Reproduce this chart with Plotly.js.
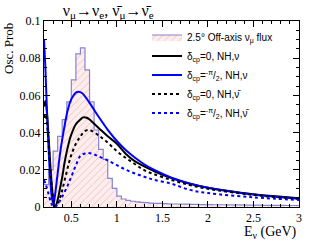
<!DOCTYPE html>
<html>
<head>
<meta charset="utf-8">
<script src="https://cdn.plot.ly/plotly-3.0.1.min.js"></script>
<style>html,body{margin:0;padding:0;background:#fff}#chart{width:314px;height:243px}</style>
</head>
<body>
<div id="chart"></div>
<script>
// Flux histogram (bin edges, 0.05 GeV wide) and values
var binEdges = [0.20,0.25,0.30,0.35,0.40,0.45,0.50,0.55,0.60,0.65,0.70,0.75,0.80,0.85,0.90,0.95,
  1.00,1.05,1.10,1.15,1.20,1.25,1.30,1.35,1.40,1.45,1.50,1.55,1.60,1.65,1.70,1.75,1.80,1.85,1.90,1.95,
  2.00,2.05,2.10,2.15,2.20,2.25,2.30,2.35,2.40,2.45,2.50,2.55,2.60,2.65,2.70,2.75,2.80,2.85,2.90,2.95,3.00];
var fluxVals = [0.012,0.020,0.030,0.038,0.047,0.0565,0.0683,0.0823,0.0855,0.0737,0.0565,0.0414,0.0310,0.0256,0.0154,0.0100,
  0.0058,0.0043,0.0036,0.0031,0.0028,0.0025,0.0023,0.0021,0.0020,0.0019,0.0018,0.0017,0.0016,0.0016,0.0015,0.0015,0.0014,0.0014,0.0013,0.0013,
  0.0013,0.0012,0.0012,0.0012,0.0011,0.0011,0.0011,0.0011,0.0010,0.0010,0.0010,0.0010,0.0009,0.0009,0.0009,0.0009,0.0009,0.0008,0.0008,0.0008];

// delta_cp = 0, NH, nu (black solid)
var eBlk = [0.20,0.215,0.23,0.25,0.27,0.29,0.31,0.32,0.34,0.36,0.38,0.40,0.43,0.47,0.50,0.55,0.60,0.63,0.67,0.70,0.80,0.90,1.00,1.10,1.20,1.40,1.60,1.80,2.00,2.50,3.00];
var pBlk = [0.054,0.057,0.052,0.038,0.022,0.009,0.001,0.0,0.002,0.006,0.011,0.016,0.025,0.034,0.039,0.0445,0.047,0.0482,0.048,0.047,0.0425,0.038,0.034,0.0285,0.0245,0.0195,0.0155,0.0125,0.0103,0.0068,0.0047];
// delta_cp = -pi/2, NH, nu (blue solid)
var eBlu = [0.20,0.215,0.23,0.25,0.27,0.29,0.305,0.32,0.345,0.38,0.42,0.46,0.50,0.55,0.58,0.62,0.70,0.80,0.90,1.00,1.10,1.20,1.30,1.40,1.60,1.80,2.00,2.50,3.00];
var pBlu = [0.090,0.075,0.055,0.032,0.014,0.004,0.002,0.006,0.016,0.030,0.042,0.052,0.058,0.0615,0.062,0.0612,0.0560,0.0485,0.0415,0.0355,0.0305,0.0265,0.0230,0.0202,0.0158,0.0127,0.0104,0.0067,0.0045];
// delta_cp = 0, NH, antinu (black dashed)
var eBlkD = [0.20,0.215,0.23,0.25,0.27,0.29,0.31,0.33,0.35,0.38,0.40,0.43,0.47,0.50,0.55,0.60,0.65,0.68,0.72,0.80,0.90,1.00,1.10,1.20,1.30,1.40,1.60,1.80,2.00,2.50,3.00];
var pBlkD = [0.048,0.050,0.046,0.034,0.020,0.009,0.002,0.0,0.002,0.0055,0.009,0.015,0.023,0.028,0.034,0.038,0.0408,0.0414,0.041,0.0385,0.0346,0.030,0.0263,0.023,0.0198,0.0178,0.0145,0.0118,0.0098,0.0065,0.0044];
// delta_cp = -pi/2, NH, antinu (blue dashed)
var eBluD = [0.20,0.22,0.25,0.28,0.31,0.34,0.37,0.40,0.47,0.544,0.60,0.65,0.69,0.75,0.80,0.90,1.00,1.10,1.20,1.30,1.40,1.60,1.80,2.00,2.50,3.00];
var pBluD = [0.0145,0.012,0.007,0.002,0.0,0.001,0.003,0.0055,0.0127,0.0217,0.0275,0.0288,0.029,0.0283,0.0272,0.025,0.0225,0.020,0.018,0.0163,0.0147,0.0125,0.0092,0.0075,0.0052,0.0038];

var legendLabels = [
  "2.5° Off-axis ν<sub>μ</sub> flux",
  "δ<sub>cp</sub>=0, NH,ν",
  "δ<sub>cp</sub>=<sup>-π</sup>/<sub>2</sub>, NH,ν",
  "δ<sub>cp</sub>=0, NH,ν̄",
  "δ<sub>cp</sub>=<sup>-π</sup>/<sub>2</sub>, NH,ν̄"
];
var titleText = 'ν<sub>μ</sub>→ν<sub>e</sub>, ν̄<sub>μ</sub>→ν̄<sub>e</sub>';
var yTitle = 'Osc. Prob';
var xTitle = 'E<sub>ν</sub> (GeV)';

var histY = fluxVals.concat([fluxVals[fluxVals.length-1]]);

var traces = [
  {x: binEdges, y: histY, type:'scatter', mode:'lines', name: legendLabels[0],
   line:{shape:'hv', color:'rgba(120,120,205,0.9)', width:1.2},
   fill:'tozeroy', fillcolor:'#fdeded',
   fillpattern:{shape:'/', fgcolor:'rgba(235,130,130,0.55)', bgcolor:'#fdeeee', size:5, solidity:0.15}},
  {x: eBlk, y: pBlk, type:'scatter', mode:'lines', name: legendLabels[1],
   line:{shape:'spline', color:'#000', width:2}},
  {x: eBlu, y: pBlu, type:'scatter', mode:'lines', name: legendLabels[2],
   line:{shape:'spline', color:'#0000ff', width:2}},
  {x: eBlkD, y: pBlkD, type:'scatter', mode:'lines', name: legendLabels[3],
   line:{shape:'spline', color:'#000', width:2, dash:'3px,3px'}},
  {x: eBluD, y: pBluD, type:'scatter', mode:'lines', name: legendLabels[4],
   line:{shape:'spline', color:'#0000ff', width:2, dash:'3px,3px'}}
];

function axis(extra){
  var a = {showline:true, linecolor:'#000', linewidth:1, mirror:'ticks', ticks:'inside',
    ticklen:6, tickcolor:'#000', showgrid:false, zeroline:false,
    tickfont:{family:'Liberation Serif', size:12, color:'#000'}};
  for (var k in extra) a[k] = extra[k];
  return a;
}

var layout = {
  width:314, height:243,
  margin:{l:44, r:15, t:21, b:36, pad:0},
  title:{text:titleText, font:{family:'Liberation Serif', size:16, color:'#000'},
    x:0.2, xanchor:'left', y:0.958, yanchor:'middle'},
  xaxis: axis({range:[0.2,3], tick0:0, dtick:0.5,
    minor:{dtick:0.1, ticklen:3, ticks:'inside'}}),
  yaxis: axis({range:[0,0.1], tick0:0, dtick:0.02,
    minor:{dtick:0.005, ticklen:3, ticks:'inside'}}),
  legend:{x:0.404, y:0.992, bgcolor:'rgba(0,0,0,0)',
    font:{family:'Liberation Sans', size:10, color:'#000'}, itemwidth:30},
  annotations:[
    {text:yTitle, xref:'paper', yref:'paper', x:-0.137, y:0.85, textangle:-90, showarrow:false,
     xanchor:'center', yanchor:'middle',
     font:{family:'Liberation Serif', size:13, color:'#000'}},
    {text:xTitle, xref:'paper', yref:'paper', x:1.0, y:-0.191, showarrow:false,
     xanchor:'right',
     font:{family:'Liberation Serif', size:14, color:'#000'}}
  ]
};

Plotly.newPlot('chart', traces, layout, {displayModeBar:false, staticPlot:true}).then(function(){
  setTimeout(function(){}, 300);
});
</script>
</body>
</html>
